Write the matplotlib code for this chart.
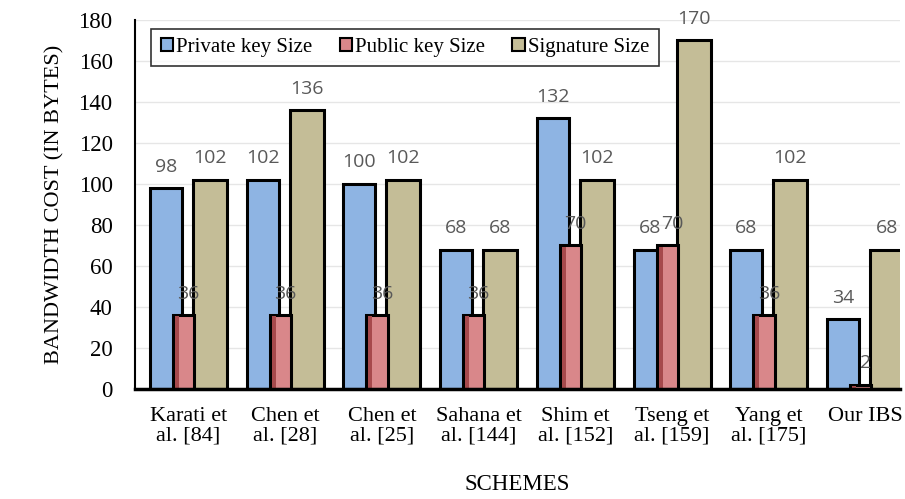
import matplotlib.pyplot as plt
import numpy as np

schemes = ["Karati et\nal. [84]", "Chen et\nal. [28]", "Chen et\nal. [25]", "Sahana et\nal. [144]",
           "Shim et\nal. [152]", "Tseng et\nal. [159]", "Yang et\nal. [175]", "Our IBS"]
private_key = [98, 102, 100, 68, 132, 68, 68, 34]
public_key = [36, 36, 36, 36, 70, 70, 36, 2]
signature = [102, 136, 102, 68, 102, 170, 102, 68]

blue = '#8EB4E3'
red = '#D9878A'
tan = '#C4BD97'

fig = plt.figure(figsize=(9.05, 4.99), dpi=100)
ax = fig.add_axes([0.149, 0.2204, 0.846, 0.7396])

x = np.arange(len(schemes))
lw = 2.2

ax.bar(x - 0.233, private_key, width=0.33, color=blue, edgecolor='black', linewidth=lw,
       label='Private key Size', zorder=3)
ax.bar(x - 0.05, public_key, width=0.22, color=red, edgecolor='black', linewidth=lw,
       label='Public key Size', zorder=4)
# darker shading strip on the red bars
ax.bar(x - 0.119, np.array(public_key) - 1.2, width=0.04, bottom=0.6, color='#A6494C',
       linewidth=0, zorder=4.5)
ax.bar(x + 0.222, signature, width=0.35, color=tan, edgecolor='black', linewidth=lw,
       label='Signature Size', zorder=3)

lab_kw = dict(ha='center', va='bottom', fontsize=14, color='#595959', family='Open Sans',
              textcoords='offset points', zorder=6)
for i in range(len(schemes)):
    ax.annotate(str(private_key[i]), (x[i] - 0.233, private_key[i]), xytext=(0, 9), **lab_kw)
    ax.annotate(str(public_key[i]), (x[i], public_key[i]), xytext=(0, 9), **lab_kw)
    ax.annotate(str(signature[i]), (x[i] + 0.222, signature[i]), xytext=(0, 9), **lab_kw)

ax.set_xlim(-0.553, 7.36)
ax.set_ylim(0, 180)
ax.set_yticks(range(0, 181, 20))
ax.set_xticks(x)
ax.set_xticklabels(schemes, family='Liberation Serif', fontsize=16, linespacing=1.05)
for t in ax.get_yticklabels():
    t.set_family('Liberation Serif')
    t.set_fontsize(16.5)
ax.tick_params(axis='x', length=0, pad=13)
ax.tick_params(axis='y', length=0, pad=16)

ax.grid(axis='y', color='#E6E6E6', linewidth=1, zorder=0)
ax.set_axisbelow(True)
for s in ['top', 'right']:
    ax.spines[s].set_visible(False)
ax.spines['left'].set_linewidth(1.5)
ax.spines['bottom'].set_linewidth(2.5)
ax.spines['bottom'].set_zorder(5)

ax.set_ylabel('BANDWIDTH COST (IN BYTES)', family='Liberation Serif', fontsize=16, labelpad=10)
ax.set_xlabel('SCHEMES', family='Liberation Serif', fontsize=16.5, labelpad=20)

leg = ax.legend(loc='upper left', bbox_to_anchor=(0.008, 1.005), ncol=3, frameon=True, fancybox=False,
                prop={'family': 'Liberation Serif', 'size': 15}, handlelength=0.6, handleheight=0.6,
                handletextpad=0.15, columnspacing=1.3, borderpad=0.45, edgecolor='black')
leg.get_frame().set_linewidth(1.2)
for h in leg.legend_handles:
    h.set_linewidth(1.5)

fig.savefig('out.png', dpi=100)
